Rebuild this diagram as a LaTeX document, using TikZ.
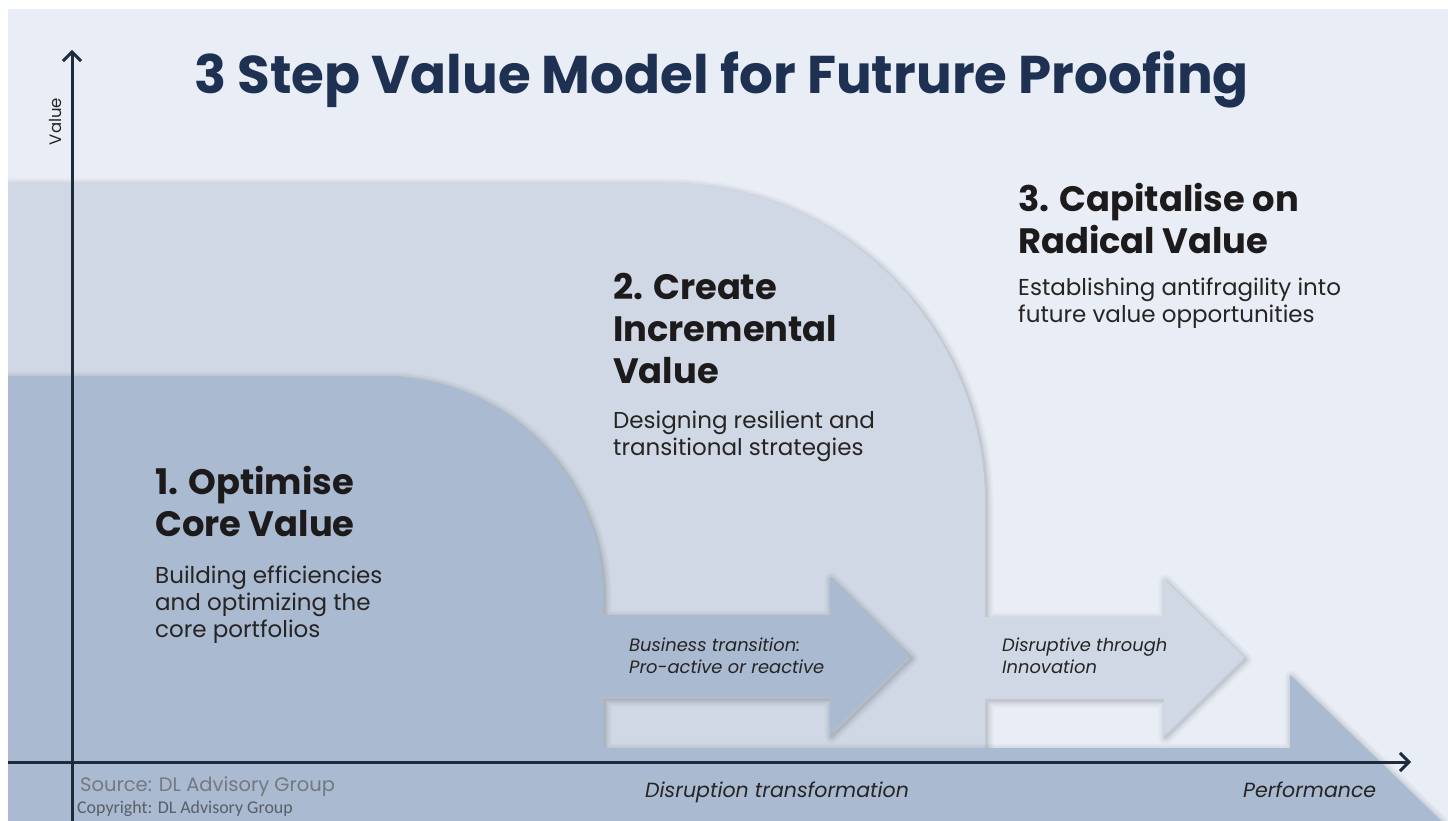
\documentclass[tikz,border=0pt]{standalone}
\usepackage{fontspec}
\setmainfont{Poppins}
\newfontfamily\carlito{Carlito}
\usetikzlibrary{arrows.meta}
\definecolor{bgc}{HTML}{E9EEF6}
\definecolor{midc}{HTML}{CFD8E4}
\definecolor{darkc}{HTML}{A9BAD1}
\definecolor{axisc}{HTML}{1E2B3B}
\definecolor{titlec}{HTML}{1F3152}
\definecolor{headc}{HTML}{1C1A1A}
\definecolor{bodyc}{HTML}{262424}
\definecolor{srcc}{HTML}{737982}
\definecolor{copyc}{HTML}{5A5E66}
\begin{document}
\begin{tikzpicture}[x=1pt,y=-1pt,
  axis/.style={draw=axisc,line width=3pt,-{Straight Barb[length=9pt,width=18pt,line width=3pt]}},
  titletext/.style={inner sep=0pt,text=titlec,font=\fontsize{53.1}{60}\selectfont\bfseries},
  headtext/.style={inner sep=0pt,anchor=north west,align=left,text=headc,font=\fontsize{35.3}{42}\selectfont\bfseries},
  bodytext/.style={inner sep=0pt,anchor=north west,align=left,text=bodyc,font=\fontsize{23}{26.7}\selectfont},
  arrowtext/.style={inner sep=0pt,anchor=north west,align=left,text=bodyc,font=\fontsize{17.9}{21.7}\selectfont\itshape},
  axistext/.style={inner sep=0pt,text=bodyc,font=\fontsize{20.5}{24}\selectfont\itshape},
  glow/.style={draw=black,line join=round,fill=none}
]
\useasboundingbox (0,0) rectangle (1448,821);
\fill[white] (0,0) rectangle (1448,821);
\fill[bgc] (8,9) rectangle (1448,821);

\def\midpath{(8,183) -- (665,183) .. controls (841.7,183) and (985,326.3) .. (985,503) -- (985,617) -- (1164,617) -- (1164,579) -- (1244,657) -- (1164,735) -- (1164,698) -- (985,698) -- (985,770) -- (8,770) -- cycle}
\def\darkpath{(8,376) -- (383,376) .. controls (504.5,376) and (603,474.5) .. (603,596) -- (603,615) -- (830,615) -- (830,577) -- (910,656) -- (830,734) -- (830,697) -- (603,697) -- (603,748) -- (1290,748) -- (1290,675) -- (1441,821) -- (8,821) -- cycle}

\begin{scope}
\clip (8,9) rectangle (1448,821);
\begin{scope}[shift={(1.5,2.5)}]
\foreach \w/\o in {14/0.025,10/0.035,6/0.045,3/0.06}{\path[glow,line width=\w pt,draw opacity=\o] \midpath;}
\end{scope}
\fill[midc] \midpath;
\begin{scope}[shift={(1.5,2.5)}]
\foreach \w/\o in {14/0.025,10/0.035,6/0.045,3/0.06}{\path[glow,line width=\w pt,draw opacity=\o] \darkpath;}
\end{scope}
\fill[darkc] \darkpath;
\end{scope}

% axes
\coordinate (yfoot) at (72,821);
\coordinate (ytip) at (72,50);
\coordinate (xfoot) at (8,762);
\coordinate (xtip) at (1411,762);
\draw[axis] (yfoot) -- (ytip);
\draw[axis] (xfoot) -- (xtip);

\node[inner sep=0pt,rotate=90,anchor=base,text=bodyc,font=\fontsize{16.5}{18}\selectfont] (vlabel) at (61,121.5) {Value};

\node[titletext,anchor=base] (title) at (721.5,94) {3 Step Value Model for Futrure Proofing};

\node[headtext] (h1) at (155,466) {1. Optimise\\Core Value};
\node[bodytext] (b1) at (155,566) {Building efficiencies\\and optimizing the\\core portfolios};

\node[headtext] (h2) at (613,273) {2. Create\\Incremental\\Value};
\node[bodytext] (b2) at (613,411) {Designing resilient and\\transitional strategies};

\node[headtext] (h3) at (1018,183) {3. Capitalise on\\Radical Value};
\node[bodytext] (b3) at (1018,278) {Establishing antifragility into\\future value opportunities};

\node[arrowtext] (a1) at (629,638) {Business transition:\\Pro-active or reactive};
\node[arrowtext] (a2) at (1002,638) {Disruptive through\\Innovation};

\node[axistext,anchor=base west] (xl1) at (645,797) {Disruption transformation};
\node[axistext,anchor=base west] (xl2) at (1243,797) {Performance};

\node[inner sep=0pt,anchor=base west,text=srcc,font=\fontsize{19.5}{22}\selectfont] (src) at (80,791) {Source: DL Advisory Group};
\node[inner sep=0pt,anchor=base west,text=copyc,font=\fontsize{17.9}{20}\selectfont\carlito] (copy) at (77,813) {Copyright: DL Advisory Group};
\end{tikzpicture}
\end{document}
